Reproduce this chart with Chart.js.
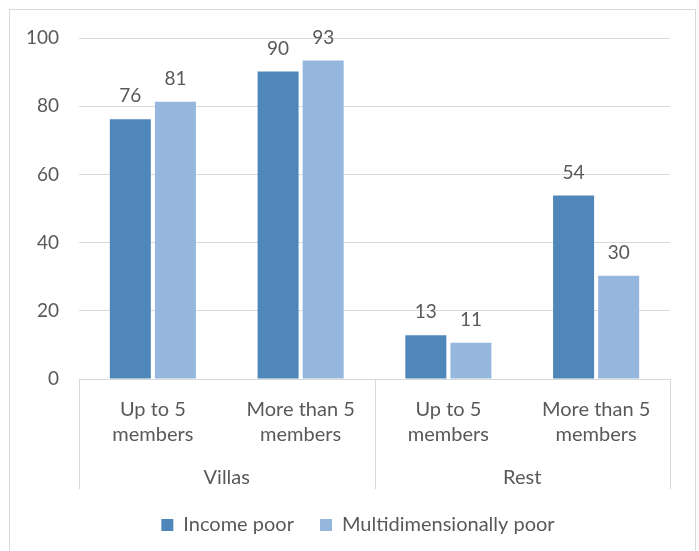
<!DOCTYPE html>
<html>
<head>
<meta charset="utf-8">
<script src="https://cdn.jsdelivr.net/npm/chart.js@4/dist/chart.umd.min.js"></script>
<style>
  html, body { margin: 0; padding: 0; background: #fff; overflow: hidden; }
  #frame { position: absolute; left: 9px; top: 9px; width: 685px; height: 600px; border: 1px solid #d9d9d9; }
  #wrap { position: absolute; left: 0; top: 0; width: 699px; height: 551px; }
</style>
</head>
<body>
<div id="frame"></div>
<div id="wrap"><canvas id="povertyChart"></canvas></div>
<script>
// household size categories, grouped by dwelling type
const categories = [['Up to 5', 'members'], ['More than 5', 'members'], ['Up to 5', 'members'], ['More than 5', 'members']];
const groups = ['Villas', 'Rest'];
const incomePoor = [76.2, 90.2, 12.8, 53.8];
const multiPoor = [81.3, 93.4, 10.6, 30.3];
const yTicks = [0, 20, 40, 60, 80, 100];

const textColor = '#595959';
const lineColor = '#d9d9d9';
const fontFamily = 'Lato, "Open Sans", sans-serif';

// value labels above each bar
const barLabels = {
  id: 'barLabels',
  afterDatasetsDraw(chart) {
    const ctx = chart.ctx;
    ctx.save();
    ctx.fillStyle = textColor;
    ctx.font = '19px ' + fontFamily;
    ctx.textAlign = 'center';
    ctx.textBaseline = 'middle';
    chart.data.datasets.forEach((ds, i) => {
      chart.getDatasetMeta(i).data.forEach((bar, j) => {
        ctx.fillText(Math.round(ds.data[j]), bar.x, bar.y - 23);
      });
    });
    ctx.restore();
  }
};

// vertical separators between the two groups on the category axis
const groupLines = {
  id: 'groupLines',
  afterLayout(chart) {
    // legend sits a little right of the canvas centre, like the original
    chart.legend.left += 46;
  },
  afterDraw(chart) {
    const x = chart.scales.x, x2 = chart.scales.x2;
    const ctx = chart.ctx;
    const mid = (x.getPixelForValue(1) + x.getPixelForValue(2)) / 2;
    ctx.save();
    ctx.strokeStyle = lineColor;
    ctx.lineWidth = 1;
    [chart.chartArea.left, mid, chart.chartArea.right].forEach(px => {
      const p = Math.round(px) + 0.5;
      ctx.beginPath();
      ctx.moveTo(p, chart.chartArea.bottom);
      ctx.lineTo(p, x2.bottom);
      ctx.stroke();
    });
    ctx.restore();
  }
};

const ctx = document.getElementById('povertyChart').getContext('2d');

const data = {
  labels: categories,
  datasets: [{
    label: 'Income poor',
    data: incomePoor,
    backgroundColor: '#4f87bb',
    categoryPercentage: 0.61,
    barPercentage: 0.91
  }, {
    label: 'Multidimensionally poor',
    data: multiPoor,
    backgroundColor: '#95b7de',
    categoryPercentage: 0.61,
    barPercentage: 0.91
  }]
};

const config = {
  type: 'bar',
  data: data,
  options: {
    responsive: true,
    maintainAspectRatio: false,
    animation: false,
    layout: { padding: { top: 38, right: 29, bottom: 6, left: 0 } },
    plugins: {
      legend: {
        position: 'bottom',
        labels: {
          color: textColor,
          font: { family: fontFamily, size: 20 },
          boxWidth: 12,
          boxHeight: 12,
          padding: 26
        }
      },
      tooltip: { enabled: false }
    },
    scales: {
      y: {
        min: 0,
        max: 100,
        afterBuildTicks(scale) { scale.ticks = yTicks.map(v => ({ value: v })); },
        afterFit(scale) { scale.width = 79; },
        grid: { color: lineColor, drawTicks: false },
        border: { display: false },
        ticks: { color: textColor, font: { family: fontFamily, size: 19 }, padding: 20 }
      },
      x: {
        weight: 0,
        afterFit(scale) { scale.height = 70; },
        grid: { display: false },
        border: { display: true, color: lineColor },
        ticks: { color: textColor, font: { family: fontFamily, size: 20, lineHeight: 1.25 }, padding: 10, maxRotation: 0, autoSkip: false }
      },
      x2: {
        type: 'category',
        position: 'bottom',
        weight: 1,
        labels: groups,
        offset: true,
        afterFit(scale) { scale.height = 40; },
        grid: { display: false, drawTicks: false },
        border: { display: false },
        ticks: { color: textColor, font: { family: fontFamily, size: 20, lineHeight: 1.25 }, padding: 16 }
      }
    }
  },
  plugins: [barLabels, groupLines]
};

const povertyChart = new Chart(ctx, config);
</script>
</body>
</html>
